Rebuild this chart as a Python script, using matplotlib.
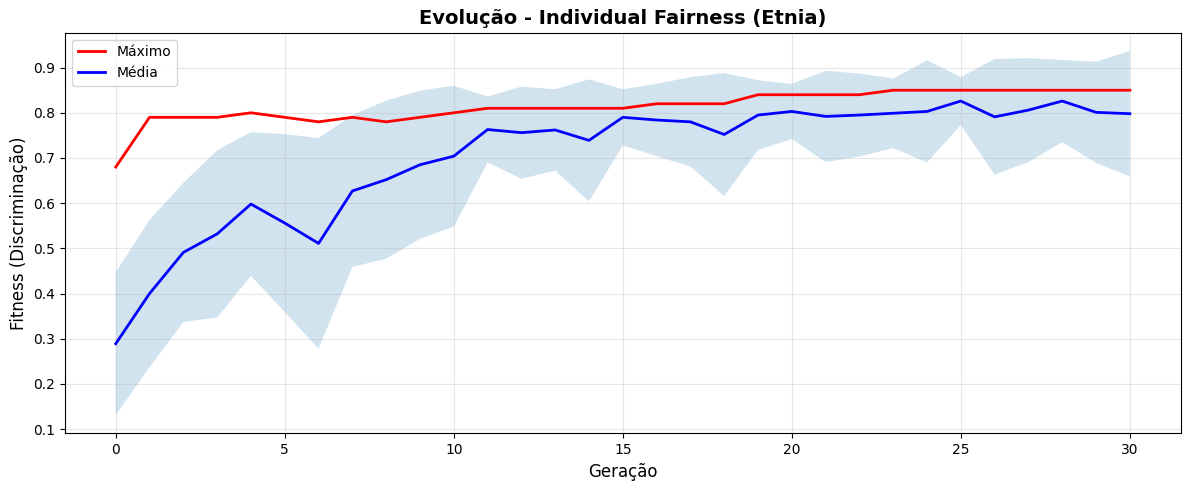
import numpy as np
import matplotlib
matplotlib.use("Agg")
import matplotlib.pyplot as plt

# dados por geracao
geracoes = list(range(31))
maximo = [0.68, 0.79, 0.79, 0.79, 0.80, 0.79, 0.78, 0.79, 0.78, 0.79,
          0.80, 0.81, 0.81, 0.81, 0.81, 0.81, 0.82, 0.82, 0.82, 0.84,
          0.84, 0.84, 0.84, 0.85, 0.85, 0.85, 0.85, 0.85, 0.85, 0.85, 0.85]
media = [0.289, 0.400, 0.491, 0.532, 0.598, 0.556, 0.511, 0.627, 0.652, 0.685,
         0.704, 0.763, 0.756, 0.762, 0.739, 0.790, 0.784, 0.780, 0.752, 0.795,
         0.803, 0.792, 0.795, 0.799, 0.803, 0.826, 0.791, 0.806, 0.826, 0.801, 0.798]
desvio = [0.158, 0.163, 0.154, 0.185, 0.159, 0.197, 0.233, 0.168, 0.175, 0.164,
          0.156, 0.073, 0.102, 0.090, 0.135, 0.062, 0.080, 0.099, 0.136, 0.077,
          0.061, 0.101, 0.092, 0.077, 0.113, 0.053, 0.128, 0.115, 0.091, 0.112, 0.139]

media = np.array(media)
desvio = np.array(desvio)

fig, ax = plt.subplots(figsize=(11.89, 4.9), dpi=100)
ax.plot(geracoes, maximo, color="red", linewidth=2, label="Máximo")
ax.plot(geracoes, media, color="blue", linewidth=2, label="Média")
ax.fill_between(geracoes, media - desvio, media + desvio, alpha=0.2)

ax.set_title("Evolução - Individual Fairness (Etnia)", fontsize=14, fontweight="bold")
ax.set_xlabel("Geração", fontsize=12)
ax.set_ylabel("Fitness (Discriminação)", fontsize=12)
ax.grid(True, alpha=0.3)
ax.legend(loc="upper left")

plt.subplots_adjust(left=0.0547, right=0.9929, top=0.9333, bottom=0.1157)
plt.savefig("out.png")
